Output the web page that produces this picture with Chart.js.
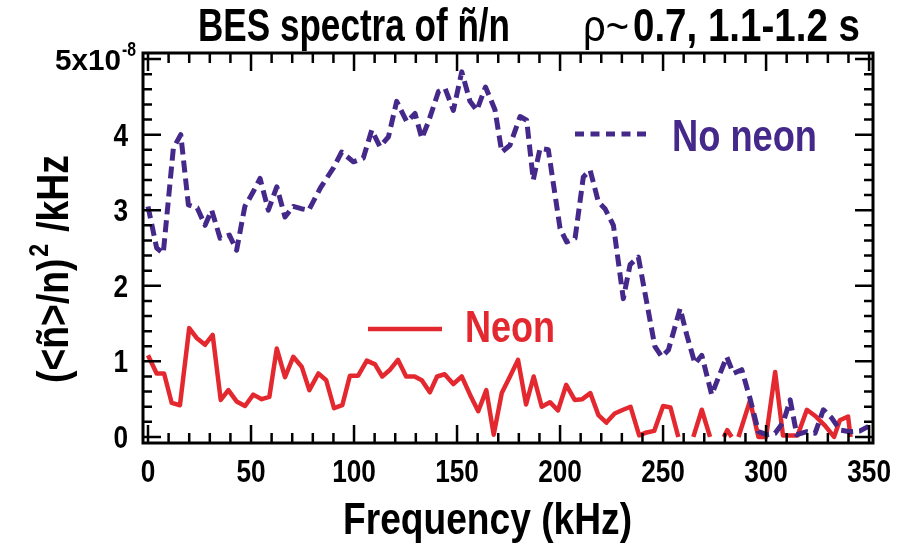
<!DOCTYPE html>
<html>
<head>
<meta charset="utf-8">
<script src="https://cdn.jsdelivr.net/npm/chart.js@4.4.1/dist/chart.umd.min.js"></script>
<style>
  html, body { margin: 0; padding: 0; background: #fff; }
  canvas { display: block; }
</style>
</head>
<body>
<canvas id="chart" width="899" height="548"></canvas>
<script>
// Spectra, frequency in kHz, values in units of 1e-8 /kHz
const noNeonFreq = [0, 4.2, 7.4, 12.3, 15.9, 19.6, 23.9, 27.7, 30.9, 35, 39.5, 43, 47, 51, 54.4, 58.4, 62.5, 66.5, 70.5, 74.4,
    78, 84, 90, 94, 99.7, 104.5, 108.6, 112.6, 116.7, 120.7, 125.6, 129.6, 132.9, 136.1, 141, 144.2, 148.2, 152.3, 156.3, 159.6,
    163.8, 168.4, 171.7, 175.7, 180.6, 183.8, 187, 190.3, 194.3, 200, 203.2, 207.3, 211.3, 214.6, 218.6, 221.8, 225.9, 230.7, 234, 238,
    242, 246, 249.4, 252.6, 258.3, 261.5, 265.5, 268.8, 273.6, 276.8, 280.9, 284.1, 288.2, 292.2, 296.3, 300.3, 304.4, 308.4, 311.7, 314.9,
    319.8, 323.8, 327.8, 331.9, 335.9, 340.8, 345.6, 349.7];
const noNeonValues = [3.05, 2.5, 2.43, 3.82, 4.0, 3.07, 3.03, 2.8, 3.0, 2.63, 2.67, 2.47, 3.05, 3.24, 3.42, 3.0, 3.31, 2.91, 3.05, 3.02,
    3.0, 3.31, 3.56, 3.77, 3.64, 3.69, 4.06, 3.84, 3.97, 4.44, 4.17, 4.28, 3.95, 4.17, 4.57, 4.61, 4.32, 4.83, 4.44, 4.32,
    4.63, 4.33, 3.77, 3.86, 4.24, 4.19, 3.40, 3.82, 3.80, 2.76, 2.58, 2.63, 3.44, 3.53, 3.11, 3.02, 2.80, 1.83, 2.28, 2.38,
    1.79, 1.20, 1.06, 1.15, 1.70, 1.35, 0.97, 1.08, 0.56, 0.78, 1.06, 0.84, 0.89, 0.51, 0.07, 0.03, 0.05, 0.20, 0.49, 0.03,
    0.07, 0.05, 0.36, 0.25, 0.09, 0.07, 0.08, 0.14];

const neonFreq = [0, 4.2, 7.8, 11.5, 15.5, 20, 23.6, 27.7, 31.4, 35.3, 39, 43, 47.1, 51.1, 55.2, 58.9, 62.5, 66.5, 70.5, 74.6,
    78.3, 82.7, 86.5, 90.3, 94.3, 98, 102, 106.2, 110.2, 113.7, 117.5, 121.3, 125.3, 129.4, 132.9, 136.8, 140.3, 144, 148.2, 152.3,
    156.3, 160.3, 164.2, 167.8, 171.7, 175.7, 179.6, 183.5, 187.2, 191.1, 195.1, 199, 203, 207.1, 210.8, 214.7, 218.6, 222.5, 226.5, 230.6,
    234.2, 238.4, 242, 245.7, 250, 253.6, 257.4, 261, 264.7, 268.8, 272.8, 276, 279.5, 281.2, 283.3, 285, 286.6, 292.2, 296.3, 300,
    304.4, 308.2, 311.5, 315.3, 319.8, 324.2, 328.6, 333, 335.8, 339.8, 341];
// null = the curve drops below the axis and is not drawn
const neonValues = [1.08, 0.84, 0.84, 0.45, 0.42, 1.44, 1.31, 1.22, 1.35, 0.49, 0.62, 0.47, 0.41, 0.56, 0.50, 0.53, 1.17, 0.79, 1.06, 0.93,
    0.62, 0.84, 0.75, 0.38, 0.42, 0.81, 0.81, 1.01, 0.96, 0.80, 0.89, 1.02, 0.80, 0.80, 0.75, 0.59, 0.80, 0.83, 0.70, 0.80,
    0.56, 0.34, 0.62, 0.03, 0.58, 0.80, 1.02, 0.43, 0.80, 0.40, 0.46, 0.35, 0.69, 0.49, 0.50, 0.58, 0.29, 0.19, 0.31, 0.36,
    0.40, 0.02, 0.06, 0.08, 0.41, 0.39, 0, null, 0, 0.36, 0, null, 0, 0.09, 0, null, 0, 0.48, 0, 0,
    0.86, 0.02, 0.02, 0.02, 0.36, 0.27, 0.15, 0, 0.22, 0.27, 0];

const xTickLabels = [0, 50, 100, 150, 200, 250, 300, 350];
const yTickLabels = [0, 1, 2, 3, 4, 5];

const purple = '#45298a';
const red = '#e3292f';
const family = "'Liberation Sans', Arial, sans-serif";

function toPoints(xs, ys) {
    return xs.map((x, i) => ({x: x, y: ys[i]}));
}

// Text squeezed horizontally to look like the condensed face of the original
function narrowText(ctx, text, x, y, size, align, squeeze, weight) {
    ctx.save();
    ctx.font = (weight || 'bold') + ' ' + size + 'px ' + family;
    let w = ctx.measureText(text).width * squeeze;
    let left = x;
    if (align === 'right') left = x - w;
    else if (align === 'center') left = x - w / 2;
    ctx.translate(left, y);
    ctx.scale(squeeze, 1);
    ctx.textAlign = 'left';
    ctx.textBaseline = 'alphabetic';
    ctx.fillText(text, 0, 0);
    ctx.restore();
    return w;
}

// Text stretched to fill the span between left and right
function fitText(ctx, text, left, right, y, size, weight) {
    ctx.save();
    ctx.font = (weight || 'bold') + ' ' + size + 'px ' + family;
    let squeeze = (right - left) / ctx.measureText(text).width;
    ctx.restore();
    narrowText(ctx, text, left, y, size, 'left', squeeze, weight);
}

const framePlugin = {
    id: 'frame',
    afterDatasetsDraw(chart) {
        const ctx = chart.ctx;
        const area = chart.chartArea;
        const xs = chart.scales.x, ys = chart.scales.y;
        ctx.save();
        ctx.strokeStyle = '#000';
        ctx.lineWidth = 3;
        ctx.strokeRect(area.left, area.top, area.right - area.left, area.bottom - area.top);

        // inward ticks on all four sides
        ctx.lineWidth = 2.5;
        ctx.beginPath();
        for (let f = 0; f <= 350; f += 10) {
            let px = xs.getPixelForValue(f);
            let len = f % 50 === 0 ? 18 : 10;
            ctx.moveTo(px, area.bottom); ctx.lineTo(px, area.bottom - len);
            ctx.moveTo(px, area.top); ctx.lineTo(px, area.top + len);
        }
        for (let i = 0; i <= 25; i++) {
            let py = ys.getPixelForValue(i / 5);
            let len = i % 5 === 0 ? 18 : 9;
            ctx.moveTo(area.left, py); ctx.lineTo(area.left + len, py);
            ctx.moveTo(area.right, py); ctx.lineTo(area.right - len, py);
        }
        ctx.stroke();

        ctx.fillStyle = '#000';
        // x tick labels
        for (const t of xTickLabels) {
            narrowText(ctx, String(t), xs.getPixelForValue(t), area.bottom + 39, 32, 'center', 0.82);
        }
        // y tick labels, the top one carries the exponent
        for (const t of yTickLabels) {
            let py = ys.getPixelForValue(t);
            if (t === 5) {
                fitText(ctx, '5x10', 55, 121, py + 11, 30);
                fitText(ctx, '-8', 122, 136, py - 3, 20);
            } else {
                narrowText(ctx, String(t), area.left - 15, py + 11, 32, 'right', 0.82);
            }
        }

        // axis titles
        fitText(ctx, 'Frequency (kHz)', 343, 632, 534, 45);

        ctx.save();
        ctx.translate(68, 383);
        ctx.rotate(-Math.PI / 2);
        ctx.font = 'bold 45px ' + family;
        let w1 = ctx.measureText('(<ñ>/n)').width;
        ctx.font = 'bold 28px ' + family;
        let w2 = ctx.measureText('2').width;
        ctx.font = 'bold 45px ' + family;
        let w3 = ctx.measureText(' /kHz').width;
        let s = 228 / (w1 + w2 + w3 + 4);
        ctx.scale(s, 1);
        ctx.textBaseline = 'alphabetic';
        ctx.fillText('(<ñ>/n)', 0, 0);
        ctx.font = 'bold 28px ' + family;
        ctx.fillText('2', w1 + 2, -20);
        ctx.font = 'bold 45px ' + family;
        ctx.fillText(' /kHz', w1 + w2 + 4, 0);
        ctx.restore();

        // title
        fitText(ctx, 'BES spectra of ñ/n', 198, 510, 41, 46);
        fitText(ctx, 'ρ~', 583, 629, 41, 44, 'normal');
        fitText(ctx, '0.7, 1.1-1.2 s', 633, 860, 41, 46);

        // legend entries
        ctx.lineWidth = 5;
        ctx.strokeStyle = purple;
        ctx.setLineDash([9, 6.5]);
        ctx.beginPath();
        ctx.moveTo(575, 134); ctx.lineTo(646, 134);
        ctx.stroke();
        ctx.setLineDash([]);
        ctx.fillStyle = purple;
        fitText(ctx, 'No neon', 672, 817, 151, 45);

        ctx.lineWidth = 4.5;
        ctx.strokeStyle = red;
        ctx.beginPath();
        ctx.moveTo(368, 329); ctx.lineTo(442, 329);
        ctx.stroke();
        ctx.fillStyle = red;
        fitText(ctx, 'Neon', 465, 555, 342, 44);
        ctx.restore();
    }
};

new Chart(document.getElementById('chart'), {
    type: 'line',
    data: {
        datasets: [
            {
                label: 'Neon',
                data: toPoints(neonFreq, neonValues),
                borderColor: red,
                borderWidth: 4.5,
                pointRadius: 0,
                spanGaps: false,
                tension: 0,
                order: 2
            },
            {
                label: 'No neon',
                data: toPoints(noNeonFreq, noNeonValues),
                borderColor: purple,
                borderWidth: 5,
                borderDash: [12, 6],
                pointRadius: 0,
                tension: 0,
                order: 1
            }
        ]
    },
    options: {
        responsive: false,
        animation: false,
        layout: { padding: { left: 143, right: 26, top: 53, bottom: 105 } },
        scales: {
            x: { type: 'linear', min: -2.43, max: 351.9, display: false },
            y: { type: 'linear', min: -0.08, max: 5.08, display: false }
        },
        plugins: {
            legend: { display: false },
            tooltip: { enabled: false }
        },
        elements: { line: { borderJoinStyle: 'round' } }
    },
    plugins: [framePlugin]
});
</script>
</body>
</html>
